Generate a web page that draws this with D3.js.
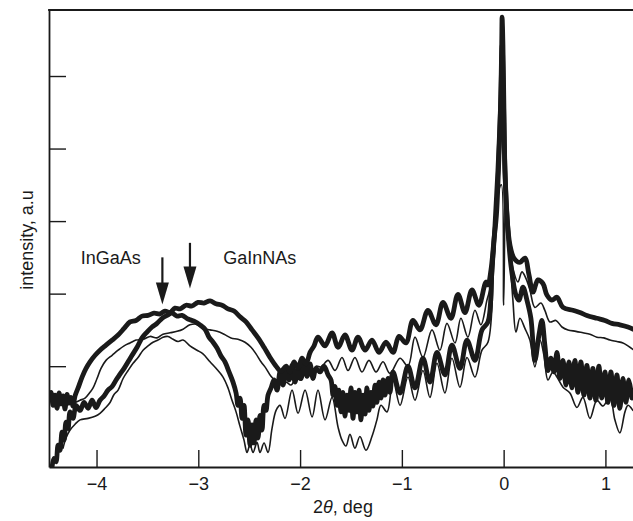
<!DOCTYPE html>
<html>
<head>
<meta charset="utf-8">
<script src="https://cdn.jsdelivr.net/npm/d3@7"></script>
<style>
  html, body { margin: 0; padding: 0; background: #fff; }
  svg { display: block; }
  text { font-family: "Liberation Sans", Arial, sans-serif; fill: #1a1a1a; }
</style>
</head>
<body>
<svg id="chart" width="633" height="521"></svg>
<script>
// ---- data (2theta in deg, intensity in a.u.) ----
const xTickValues = [-4, -3, -2, -1, 0, 1];
const yTickValues = [2, 3, 4, 5, 6];
const xLabel = "deg";
const yLabel = "intensity, a.u";
const annotationLabels = ["InGaAs", "GaInNAs"];
const annotationLabelX = [-4.155, -2.755];
const annotationLabelY = [3.41, 3.41];
const arrowX = [-3.353, -3.082];
const arrowTopY = [3.50, 3.70];
const arrowTipY = [2.85, 3.07];

const thickUpper = [
  [-4.466,1.56],[-4.447,1.64],[-4.427,1.46],[-4.408,1.60],[-4.388,1.42],[-4.368,1.63],[-4.349,1.48],
  [-4.329,1.59],[-4.310,1.41],[-4.290,1.61],[-4.270,1.49],[-4.251,1.57],[-4.231,1.45],[-4.211,1.59],
  [-4.181,1.70],[-4.142,1.85],[-4.103,1.97],[-4.064,2.06],[-4.014,2.15],[-3.966,2.22],[-3.907,2.29],
  [-3.847,2.36],[-3.788,2.43],[-3.729,2.52],[-3.671,2.61],[-3.612,2.63],[-3.553,2.69],[-3.494,2.70],
  [-3.435,2.73],[-3.376,2.72],[-3.327,2.76],[-3.278,2.74],[-3.229,2.80],[-3.180,2.79],[-3.121,2.84],
  [-3.062,2.83],[-3.003,2.88],[-2.944,2.87],[-2.885,2.90],[-2.826,2.86],[-2.767,2.84],[-2.708,2.79],
  [-2.649,2.76],[-2.590,2.68],[-2.531,2.61],[-2.472,2.50],[-2.413,2.39],[-2.354,2.26],[-2.295,2.12],
  [-2.236,2.00],[-2.187,1.93],[-2.138,2.00],[-2.099,1.92],[-2.059,2.06],[-2.020,1.97],[-1.981,2.11],
  [-1.942,2.03],[-1.902,2.19],[-1.863,2.28],[-1.824,2.40],[-1.755,2.28],[-1.686,2.46],[-1.627,2.26],
  [-1.559,2.43],[-1.490,2.22],[-1.431,2.40],[-1.362,2.22],[-1.294,2.36],[-1.225,2.19],[-1.156,2.33],
  [-1.087,2.19],[-1.028,2.41],[-0.960,2.32],[-0.891,2.63],[-0.822,2.50],[-0.744,2.77],[-0.665,2.57],
  [-0.596,2.88],[-0.518,2.66],[-0.449,2.99],[-0.380,2.74],[-0.311,3.05],[-0.243,2.84],[-0.174,3.16],
  [-0.154,3.12],[-0.125,3.32],[-0.095,3.74],[-0.071,4.08],[-0.051,4.70],[-0.031,5.53],[-0.019,6.43],
  [-0.015,6.81],[-0.007,6.43],[0.003,5.53],[0.013,4.70],[0.032,4.08],[0.062,3.67],[0.101,3.49],
  [0.160,3.43],[0.209,3.49],[0.249,3.26],[0.288,3.02],
  [0.337,3.19],[0.386,3.14],[0.425,2.98],[0.474,2.91],[0.524,2.95],[0.583,2.81],[0.681,2.77],
  [0.749,2.74],[0.818,2.70],[0.916,2.66],[0.995,2.63],[1.064,2.59],[1.142,2.57],[1.221,2.54],[1.270,2.51]
];

const thinUpper = [
  [-4.211,1.50],[-4.162,1.53],[-4.113,1.56],[-4.064,1.64],[-4.034,1.70],[-3.995,1.83],[-3.956,1.97],
  [-3.907,2.08],[-3.847,2.15],[-3.788,2.22],[-3.729,2.28],[-3.671,2.32],[-3.612,2.36],[-3.543,2.37],
  [-3.475,2.41],[-3.406,2.39],[-3.347,2.44],[-3.278,2.46],[-3.209,2.48],[-3.150,2.51],[-3.082,2.57],
  [-3.023,2.58],[-2.954,2.52],[-2.885,2.50],[-2.816,2.48],[-2.747,2.44],[-2.679,2.39],[-2.610,2.37],
  [-2.541,2.33],[-2.482,2.26],[-2.433,2.17],[-2.384,2.06],[-2.335,1.97],[-2.286,1.86],[-2.236,1.79],
  [-2.187,1.75],[-2.138,1.78],[-2.089,1.74],[-2.040,1.83],[-1.991,1.81],[-1.942,1.92],[-1.893,1.89],
  [-1.843,2.00],[-1.794,1.99],[-1.725,2.08],[-1.657,1.94],[-1.588,2.12],[-1.529,1.94],[-1.461,2.12],
  [-1.392,1.92],[-1.323,2.08],[-1.254,1.92],[-1.185,2.06],[-1.117,1.90],[-1.018,2.11],[-0.940,2.00],
  [-0.871,2.40],[-0.793,2.12],[-0.704,2.50],[-0.626,2.22],[-0.557,2.59],[-0.478,2.32],[-0.420,2.66],
  [-0.351,2.40],[-0.282,2.77],[-0.223,2.57],[-0.164,2.91],[-0.125,3.12],[-0.086,3.81],[-0.051,4.98],
  [-0.022,5.67],[-0.002,5.26],[0.018,4.43],[0.052,3.74],[0.091,3.35],[0.140,3.16],[0.180,3.30],
  [0.219,3.21],[0.258,3.05],[0.307,2.81],[0.366,2.87],[0.405,2.77],[0.455,2.61],[0.514,2.63],
  [0.573,2.54],[0.632,2.50],[0.710,2.48],[0.779,2.46],[0.848,2.44],[0.916,2.40],[0.985,2.39],
  [1.044,2.36],[1.113,2.34],[1.172,2.32],[1.221,2.28],[1.270,2.23]
];

const thickLower = [
  [-4.437,0.61],[-4.418,0.73],[-4.398,0.68],[-4.378,0.91],[-4.359,0.84],[-4.339,1.09],[-4.319,0.98],
  [-4.300,1.23],[-4.280,1.14],[-4.260,1.37],[-4.231,1.28],[-4.201,1.46],[-4.162,1.39],[-4.123,1.50],
  [-4.083,1.42],[-4.044,1.53],[-4.005,1.43],[-3.966,1.53],[-3.926,1.59],[-3.887,1.67],[-3.847,1.72],
  [-3.808,1.81],[-3.769,1.89],[-3.729,1.97],[-3.690,2.06],[-3.651,2.15],[-3.602,2.26],[-3.553,2.39],
  [-3.504,2.47],[-3.455,2.54],[-3.406,2.59],[-3.356,2.66],[-3.307,2.70],[-3.258,2.73],[-3.209,2.69],
  [-3.160,2.70],[-3.101,2.65],[-3.042,2.62],[-2.983,2.57],[-2.934,2.51],[-2.895,2.40],[-2.855,2.33],
  [-2.816,2.25],[-2.777,2.14],[-2.738,2.06],[-2.698,1.92],[-2.659,1.78],[-2.629,1.63],[-2.610,1.46],
  [-2.590,1.56],[-2.570,1.28],[-2.551,1.46],[-2.531,1.05],[-2.511,1.26],[-2.492,0.91],[-2.472,1.19],
  [-2.452,0.94],[-2.433,1.26],[-2.413,1.01],[-2.394,1.32],[-2.374,1.12],[-2.354,1.46],[-2.335,1.39],
  [-2.315,1.60],[-2.285,1.70],[-2.256,1.81],[-2.226,1.67],[-2.197,1.92],[-2.167,1.74],[-2.138,1.97],
  [-2.108,1.81],[-2.079,2.01],[-2.050,1.78],[-2.020,1.97],[-1.991,1.83],[-1.961,2.06],[-1.932,1.86],
  [-1.902,2.03],[-1.873,1.83],[-1.843,1.97],[-1.804,1.92],[-1.765,2.00],[-1.725,1.88],[-1.696,1.81],
  [-1.676,1.60],[-1.657,1.72],[-1.637,1.46],[-1.618,1.67],[-1.598,1.37],[-1.578,1.64],[-1.559,1.31],
  [-1.539,1.60],[-1.519,1.39],[-1.500,1.70],[-1.480,1.28],[-1.461,1.64],[-1.441,1.37],[-1.421,1.67],
  [-1.402,1.26],[-1.382,1.60],[-1.362,1.34],[-1.343,1.70],[-1.323,1.39],[-1.303,1.64],[-1.284,1.45],
  [-1.264,1.74],[-1.245,1.50],[-1.225,1.78],[-1.205,1.56],[-1.185,1.81],[-1.166,1.60],[-1.136,1.83],
  [-1.117,1.64],[-1.087,1.92],[-1.018,1.63],
  [-0.940,2.00],[-0.871,1.70],[-0.793,2.11],[-0.724,1.78],[-0.655,2.19],[-0.577,1.88],[-0.508,2.29],
  [-0.429,1.97],[-0.360,2.36],[-0.282,2.08],[-0.213,2.50],[-0.154,2.61],[-0.115,3.32],[-0.085,3.94],
  [-0.056,4.70],[-0.028,5.67],[-0.014,6.43],[-0.002,5.67],[0.013,4.70],[0.042,3.88],[0.072,3.39],
  [0.121,2.98],[0.150,2.91],
  [0.190,3.09],[0.229,2.91],[0.268,2.66],[0.307,2.08],[0.347,2.43],[0.376,2.63],[0.405,2.29],
  [0.435,1.94],[0.464,2.11],[0.494,1.92],[0.524,2.19],[0.553,1.83],[0.583,2.08],[0.612,1.74],
  [0.642,2.06],[0.671,1.70],[0.700,2.08],[0.730,1.64],[0.759,2.06],[0.789,1.60],[0.818,2.01],
  [0.848,1.56],[0.877,1.97],[0.906,1.53],[0.936,2.00],[0.965,1.56],[0.995,1.92],[1.024,1.50],
  [1.054,1.92],[1.083,1.46],[1.113,1.88],[1.142,1.42],[1.172,1.83],[1.201,1.50],[1.231,1.81],[1.260,1.56]
];

const thinLower = [
  [-4.329,0.87],[-4.300,1.01],[-4.260,1.12],[-4.211,1.20],[-4.162,1.26],[-4.083,1.28],[-4.014,1.31],
  [-3.966,1.35],[-3.916,1.42],[-3.867,1.50],[-3.828,1.61],[-3.788,1.67],[-3.739,1.83],[-3.690,1.94],
  [-3.641,2.04],[-3.592,2.12],[-3.543,2.22],[-3.494,2.28],[-3.445,2.33],[-3.396,2.36],[-3.347,2.40],
  [-3.297,2.41],[-3.248,2.37],[-3.199,2.34],[-3.150,2.36],[-3.082,2.28],[-3.013,2.22],[-2.954,2.17],
  [-2.885,2.06],[-2.826,1.97],[-2.757,1.85],[-2.708,1.70],[-2.669,1.53],[-2.629,1.37],[-2.590,1.17],
  [-2.551,0.98],[-2.521,0.81],[-2.492,0.92],[-2.462,0.81],[-2.423,0.95],[-2.394,0.81],[-2.354,0.94],
  [-2.315,0.81],[-2.276,1.14],[-2.236,1.39],[-2.197,1.46],[-2.148,1.28],[-2.079,1.67],[-2.020,1.35],
  [-1.951,1.67],[-1.882,1.30],[-1.824,1.67],[-1.755,1.26],[-1.686,1.57],[-1.627,1.16],[-1.588,0.98],
  [-1.549,0.90],[-1.510,1.06],[-1.461,0.87],[-1.412,1.03],[-1.353,0.84],[-1.294,1.03],[-1.245,1.26],
  [-1.205,1.46],[-1.146,1.37],[-1.087,1.81],[-1.018,1.46],[-0.940,1.85],[-0.871,1.53],[-0.793,1.94],
  [-0.724,1.57],[-0.655,2.04],[-0.577,1.63],[-0.508,2.11],[-0.429,1.71],[-0.360,2.12],[-0.282,1.85],
  [-0.213,2.22],[-0.154,2.33],[-0.095,3.43],[-0.046,4.43],[-0.022,4.50],[0.000,2.84],[0.020,4.43],
  [0.045,3.88],[0.091,2.91],[0.121,2.47],[0.160,2.66],[0.209,2.52],[0.258,2.36],[0.307,1.99],
  [0.357,2.36],[0.396,2.15],[0.435,1.81],[0.484,1.92],[0.524,1.85],[0.583,1.71],[0.651,1.63],
  [0.720,1.43],[0.779,1.57],[0.848,1.28],[0.916,1.53],[0.975,1.45],[1.044,1.57],[1.093,1.26],
  [1.142,1.08],[1.192,1.37],[1.221,1.46],[1.270,1.39]
];

// ---- layout ----
const plotLeft = 49, plotRight = 633, plotTop = 10, plotBottom = 467;
const ink = "#1a1a1a";

const svg = d3.select("#chart");
const x = d3.scaleLinear().domain([-4.467, 1.271]).range([plotLeft, plotRight]);
const y = d3.scaleLinear().domain([0.61, 6.91]).range([plotBottom, plotTop]);

svg.append("defs").append("clipPath").attr("id", "plotclip")
  .append("rect").attr("x", plotLeft).attr("y", plotTop)
  .attr("width", plotRight - plotLeft).attr("height", plotBottom - plotTop);

const line = d3.line()
  .x(d => x(d[0])).y(d => y(d[1]))
  .curve(d3.curveCatmullRom.alpha(0.5));

const plot = svg.append("g").attr("clip-path", "url(#plotclip)");
const series = [
  { data: thinLower, w: 1.6 },
  { data: thinUpper, w: 1.6 },
  { data: thickLower, w: 4.8 },
  { data: thickUpper, w: 4.8 }
];
plot.selectAll("path.series").data(series).join("path")
  .attr("class", "series")
  .attr("d", d => line(d.data))
  .attr("fill", "none")
  .attr("stroke", ink)
  .attr("stroke-width", d => d.w)
  .attr("stroke-linejoin", "round")
  .attr("stroke-linecap", "round");

// ---- axes ----
const xAxis = d3.axisBottom(x).tickValues(xTickValues).tickSizeInner(-17).tickSizeOuter(0).tickPadding(10)
  .tickFormat(d => d < 0 ? "\u2212" + Math.abs(d) : String(d));
const gx = svg.append("g").attr("transform", `translate(0,${plotBottom})`).call(xAxis);
gx.select(".domain").attr("stroke", ink).attr("stroke-width", 1.8);
gx.selectAll(".tick line").attr("stroke", ink).attr("stroke-width", 1.4);
gx.selectAll(".tick text").attr("font-size", 18).attr("fill", ink)
  .attr("font-family", '"Liberation Sans", Arial, sans-serif');

const yAxis = d3.axisLeft(y).tickValues(yTickValues).tickSizeInner(-17).tickSizeOuter(0).tickFormat("");
const gy = svg.append("g").attr("transform", `translate(${plotLeft},0)`).call(yAxis);
gy.select(".domain").attr("stroke", ink).attr("stroke-width", 1.8);
gy.selectAll(".tick line").attr("stroke", ink).attr("stroke-width", 1.4);

// top frame line
svg.append("line").attr("x1", plotLeft - 0.9).attr("x2", plotRight).attr("y1", plotTop).attr("y2", plotTop)
  .attr("stroke", ink).attr("stroke-width", 2);

// ---- axis titles ----
const xt = svg.append("text").attr("x", (plotLeft + plotRight) / 2 + 2).attr("y", 513)
  .attr("text-anchor", "middle").attr("font-size", 18);
xt.append("tspan").text("2");
xt.append("tspan").attr("font-style", "italic").text("\u03B8");
xt.append("tspan").text(", " + xLabel);

svg.append("text").attr("transform", "translate(33,240) rotate(-90)")
  .attr("text-anchor", "middle").attr("font-size", 18).text(yLabel);

// ---- annotations ----
svg.selectAll("text.anno").data(annotationLabels).join("text")
  .attr("class", "anno")
  .attr("x", (d, i) => x(annotationLabelX[i]))
  .attr("y", (d, i) => y(annotationLabelY[i]))
  .attr("font-size", 18)
  .text(d => d);

arrowX.forEach((ax, i) => {
  const px = x(ax), yTop = y(arrowTopY[i]), yTip = y(arrowTipY[i]);
  const headLen = 22, headHalf = 6.5;
  svg.append("line").attr("x1", px).attr("x2", px).attr("y1", yTop).attr("y2", yTip - headLen + 2)
    .attr("stroke", ink).attr("stroke-width", 2.2);
  svg.append("path")
    .attr("d", `M${px - headHalf},${yTip - headLen} L${px + headHalf},${yTip - headLen} L${px},${yTip} Z`)
    .attr("fill", ink);
});
</script>
</body>
</html>
